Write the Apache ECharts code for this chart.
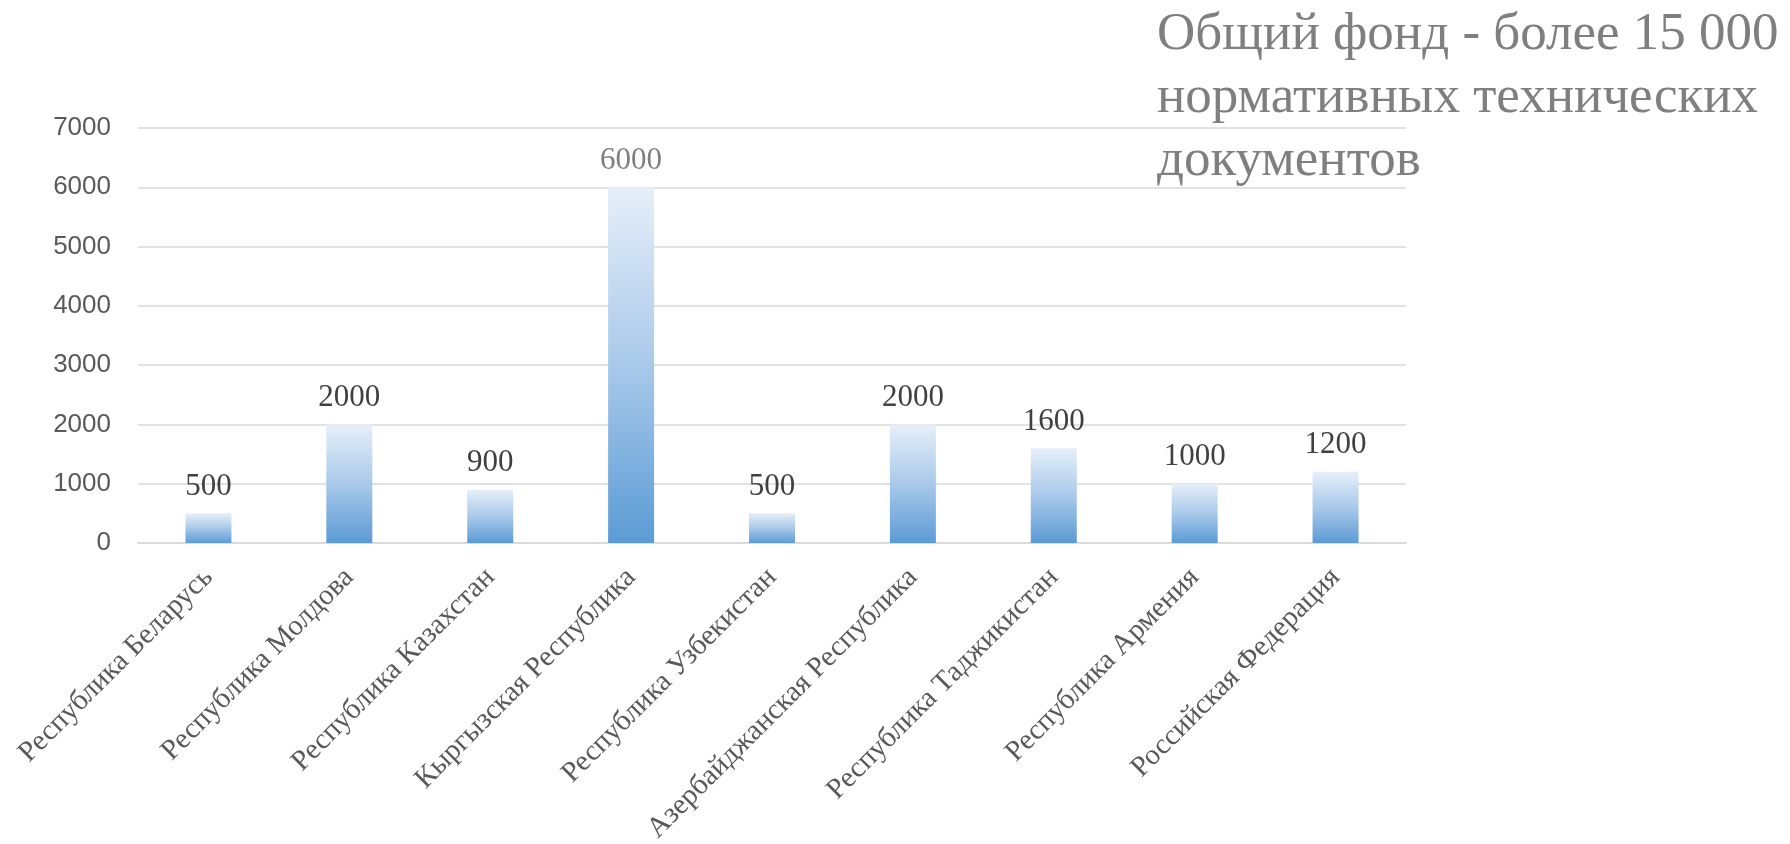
<!DOCTYPE html>
<html>
<head>
<meta charset="utf-8">
<script src="https://cdn.jsdelivr.net/npm/echarts@6/dist/echarts.min.js"></script>
<style>
html,body{margin:0;padding:0;background:#fff;}
#chart{width:1790px;height:844px;}
</style>
</head>
<body>
<div id="chart"></div>
<script>
const categories = [
  'Республика Беларусь',
  'Республика Молдова',
  'Республика Казахстан',
  'Кыргызская Республика',
  'Республика Узбекистан',
  'Азербайджанская Республика',
  'Республика Таджикистан',
  'Республика Армения',
  'Российская Федерация'
];
const values = [500, 2000, 900, 6000, 500, 2000, 1600, 1000, 1200];
const titleText = 'Общий фонд - более 15 000\nнормативных технических\nдокументов';
const grayLabelIndex = 3;

const chart = echarts.init(document.getElementById('chart'));
chart.setOption({
  animation: false,
  backgroundColor: '#ffffff',
  title: {
    text: titleText,
    left: 1157,
    top: 4,
    padding: 0,
    textStyle: {
      fontFamily: 'Liberation Serif',
      fontSize: 53,
      fontWeight: 'normal',
      color: '#7f7f7f',
      lineHeight: 63
    }
  },
  grid: { left: 138, right: 384, top: 128, bottom: 301, containLabel: false, outerBoundsMode: 'none' },
  xAxis: {
    type: 'category',
    data: categories,
    axisLine: { show: true, lineStyle: { color: '#d9d9d9', width: 1.5 } },
    axisTick: { show: false },
    axisLabel: {
      rotate: 45,
      interval: 0,
      margin: 30,
      fontFamily: 'Liberation Serif',
      fontSize: 29,
      color: '#595959'
    }
  },
  yAxis: {
    type: 'value',
    min: 0,
    max: 7000,
    interval: 1000,
    axisLine: { show: false },
    axisTick: { show: false },
    splitLine: { lineStyle: { color: '#d9d9d9', width: 1.5 } },
    axisLabel: {
      margin: 27,
      fontFamily: 'Liberation Sans',
      fontSize: 26,
      color: '#595959',
      formatter: (v) => String(v)
    }
  },
  series: [{
    type: 'bar',
    barWidth: 46,
    data: values.map((v, i) => i === grayLabelIndex ? { value: v, label: { color: '#7f7f7f' } } : v),
    itemStyle: {
      color: new echarts.graphic.LinearGradient(0, 0, 0, 1, [
        { offset: 0, color: '#e6eff9' },
        { offset: 0.5, color: '#a9c9ea' },
        { offset: 1, color: '#5b9bd5' }
      ])
    },
    label: {
      show: true,
      position: 'top',
      distance: 11,
      fontFamily: 'Liberation Serif',
      fontSize: 31,
      color: '#404040'
    }
  }]
});
</script>
</body>
</html>
